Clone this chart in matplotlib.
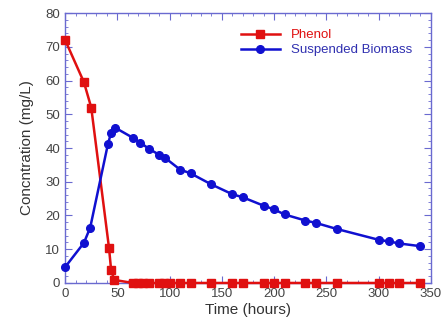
import matplotlib
matplotlib.use('Agg')
import matplotlib.pyplot as plt
from matplotlib.ticker import MultipleLocator

plt.rcParams['font.family'] = ['Liberation Sans', 'DejaVu Sans']

# Phenol concentration (mg/L)
phenol_t = [0, 18, 25, 42, 44, 47, 65, 70, 75, 80, 90, 95, 100, 110, 120, 140,
            160, 170, 190, 200, 210, 230, 240, 260, 300, 310, 320, 340]
phenol_c = [72, 59.5, 52, 10.4, 3.9, 0.9, 0, 0, 0, 0, 0, 0, 0, 0, 0, 0,
            0, 0, 0, 0, 0, 0, 0, 0, 0, 0, 0, 0]

# Suspended biomass concentration (mg/L)
bio_t = [0, 18, 24, 41, 44, 48, 65, 72, 80, 90, 96, 110, 120, 140, 160, 170,
         190, 200, 210, 230, 240, 260, 300, 310, 320, 340]
bio_c = [4.7, 11.9, 16.4, 41.2, 44.5, 46, 43, 41.6, 39.8, 38, 37, 33.6, 32.5,
         29.2, 26.3, 25.4, 22.9, 21.8, 20.3, 18.5, 17.8, 16, 12.8, 12.3, 11.7, 10.9]

axis_col = '#6a6ad0'

fig = plt.figure(figsize=(4.46, 3.26), dpi=100)
ax = fig.add_axes([0.146, 0.132, 0.82, 0.828])

ax.plot(phenol_t, phenol_c, color='#e01010', marker='s', markersize=5.5, lw=1.8,
        label='Phenol', clip_on=False, zorder=3)
ax.plot(bio_t, bio_c, color='#1010d0', marker='o', markersize=5.5, lw=1.8,
        label='Suspended Biomass', clip_on=False, zorder=3)

ax.set_xlim(0, 350)
ax.set_ylim(0, 80)
ax.xaxis.set_major_locator(MultipleLocator(50))
ax.xaxis.set_minor_locator(MultipleLocator(10))
ax.yaxis.set_major_locator(MultipleLocator(10))
ax.yaxis.set_minor_locator(MultipleLocator(2))

for s in ax.spines.values():
    s.set_color(axis_col)
    s.set_linewidth(1.0)
ax.tick_params(which='both', direction='in', top=True, right=True,
               color=axis_col, labelcolor='#444444', labelsize=9.5)
ax.tick_params(which='major', length=5)
ax.tick_params(which='minor', length=2.5)

ax.set_xlabel('Time (hours)', fontsize=11, color='#333333', labelpad=2)
ax.set_ylabel('Concntration (mg/L)', fontsize=11, color='#333333', labelpad=8)

leg = ax.legend(loc='upper right', frameon=False, fontsize=9.5,
                handlelength=3, borderaxespad=0.2, labelspacing=0.2,
                bbox_to_anchor=(0.97, 0.97))
leg.get_texts()[0].set_color('#e01010')
leg.get_texts()[1].set_color('#3030b0')

fig.savefig('out.png', dpi=100)
